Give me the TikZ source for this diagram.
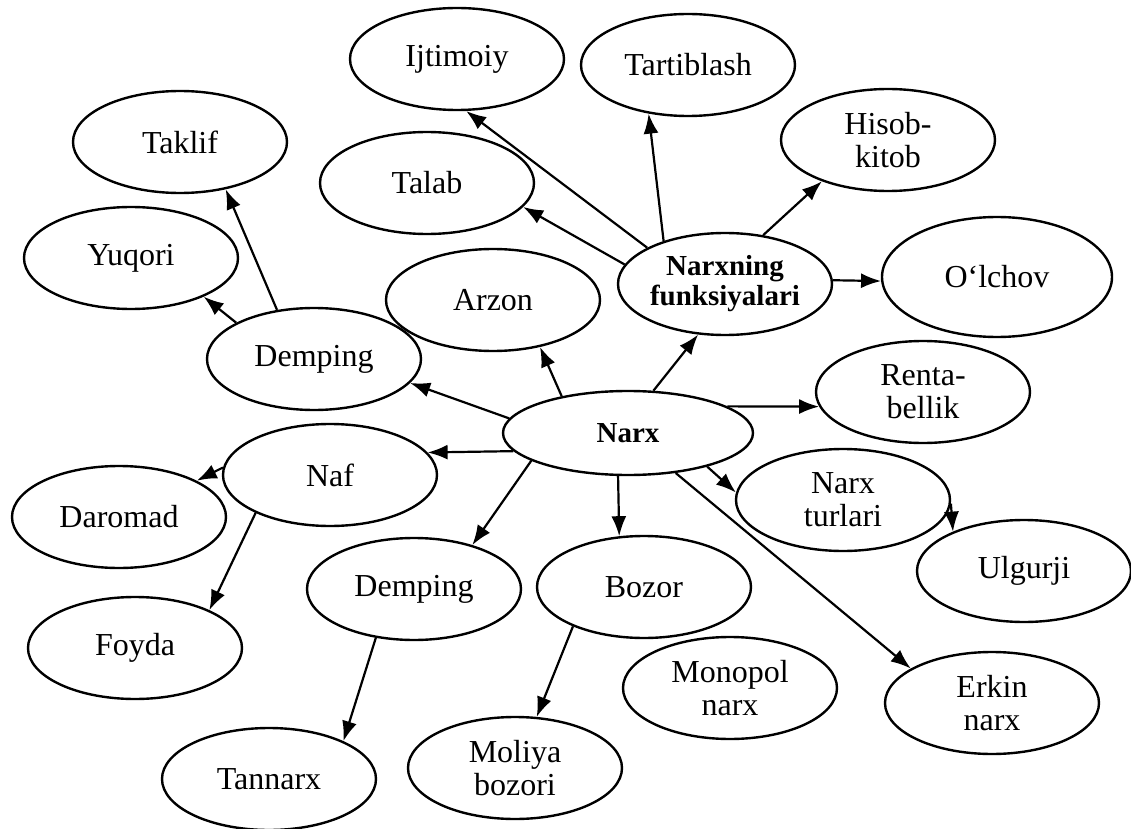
\documentclass[tikz,border=0pt]{standalone}
\usepackage{fontspec}
\setmainfont{Liberation Serif}
\usetikzlibrary{shapes.geometric,arrows.meta}
\begin{document}
\begin{tikzpicture}[x=0.5pt,y=-0.5pt,
  oval/.style={ellipse,draw,line width=1.2pt,minimum width=107pt,minimum height=51pt,inner sep=0pt,align=center,font=\fontsize{16}{16.5}\selectfont},
  main/.style={oval,font=\fontsize{14.5}{15}\selectfont\bfseries},
  link/.style={-{Latex[length=10pt,width=7.5pt]},line width=1.1pt}]

\useasboundingbox (0,0) rectangle (1131,829);

\node[oval] (ijtimoiy) at (457,59) {Ijtimoiy};
\node[oval] (tartiblash) at (688,65) {Tartiblash};
\node[oval] (hisob) at (888,140) {Hisob-\\kitob};
\node[oval] (taklif) at (180,142) {Taklif};
\node[oval] (talab) at (427,183) {Talab};
\node[oval] (yuqori) at (131,258) {Yuqori};
\node[main] (funksiya) at (725,284) {Narxning\\funksiyalari};
\node[oval,minimum width=115pt,minimum height=60pt] (olchov) at (997,277) {O‘lchov};
\node[oval] (arzon) at (493,300) {Arzon};
\node[oval] (dempingA) at (314,359) {Demping};
\node[oval] (renta) at (923,392) {Renta-\\bellik};
\node[main,minimum width=125pt,minimum height=42pt] (narx) at (628,433) {Narx};
\node[oval] (naf) at (330,475) {Naf};
\node[oval] (daromad) at (119,517) {Daromad};
\node[oval] (turlari) at (843,500) {Narx\\turlari};
\node[oval] (ulgurji) at (1024,571) {Ulgurji};
\node[oval] (dempingB) at (414,589) {Demping};
\node[oval] (bozor) at (644,587) {Bozor};
\node[oval] (foyda) at (135,648) {Foyda};
\node[oval] (monopol) at (730,688) {Monopol\\narx};
\node[oval] (erkin) at (992,703) {Erkin\\narx};
\node[oval] (moliya) at (515,768) {Moliya\\bozori};
\node[oval] (tannarx) at (269,779) {Tannarx};

\draw[link] (narx.59) -- (funksiya.-118);
\draw[link] (narx.151) -- (arzon.-45);
\draw[link] (narx.173) -- (dempingA.-14);
\draw[link] (narx.15) -- (renta.-172);
\draw[link] (narx.-171) -- (naf.13);
\draw[link] (narx.196) -- (dempingB.37);
\draw[link] (narx.-103) -- (bozor.116);
\draw[link] (narx.-23) -- (turlari.176);
\draw[link] (narx.-40) -- (erkin.157);

\draw[link] (funksiya.169) -- (talab.-14);
\draw[link] (funksiya.155) -- (ijtimoiy.-80);
\draw[link] (funksiya.145) -- (tartiblash.-129);
\draw[link] (funksiya.52) -- (hisob.-148);
\draw[link] (funksiya.2) -- (olchov.182);

\draw[link] (dempingA.155) -- (yuqori.-28);
\draw[link] (dempingA.127) -- (taklif.-46);
\draw[link] (naf.176) -- (daromad.25);
\draw[link] (naf.207) -- (foyda.27);
\draw[link] (dempingB.-128) -- (tannarx.27);
\draw[link] (bozor.-151) -- (moliya.67);
\draw[link] (turlari.-2) -- (ulgurji.151);

\end{tikzpicture}
\end{document}
